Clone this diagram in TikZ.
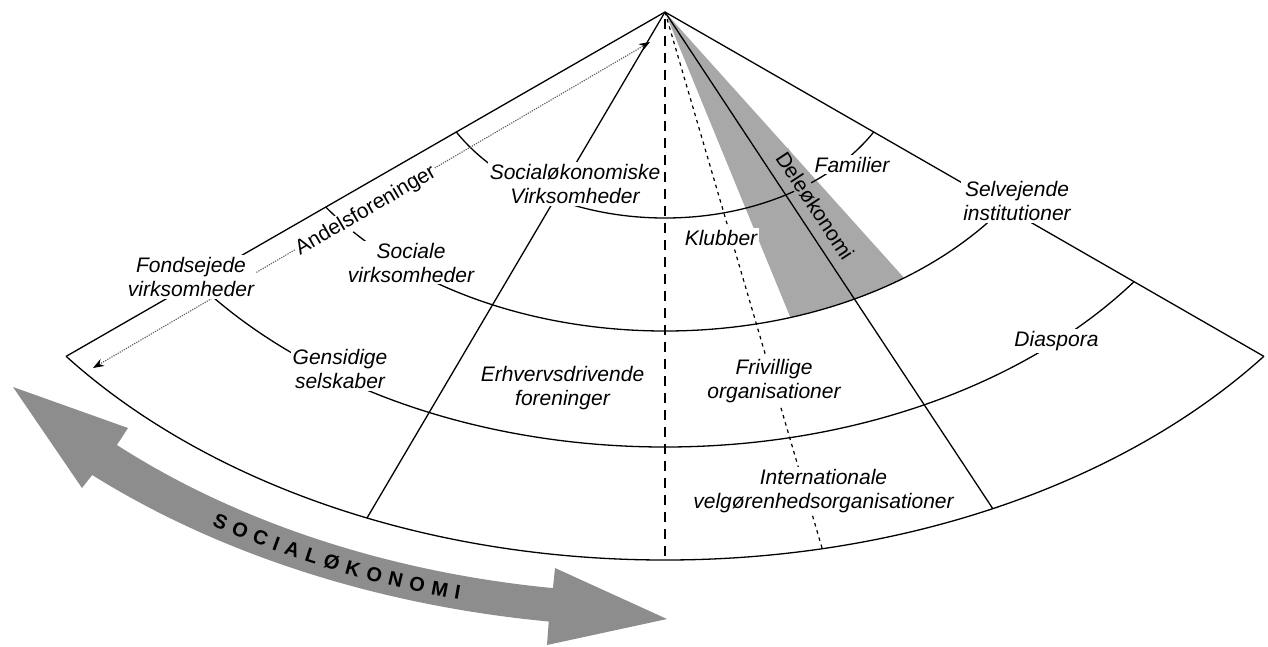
\documentclass[tikz,border=0pt]{standalone}
\usepackage{fontspec}
\setmainfont{Liberation Sans}
\usetikzlibrary{arrows.meta}
\definecolor{wedgegray}{RGB}{168,168,168}
\definecolor{arrowgray}{RGB}{141,141,141}
\definecolor{dotgray}{RGB}{90,90,90}
\begin{document}
\begin{tikzpicture}[x=1pt,y=1pt,
  arcln/.style={line width=1.3pt, black},
  edgeln/.style={line width=1.3pt, black},
  finedash/.style={line width=1.2pt, dash pattern=on 3.5pt off 4pt},
  cdash/.style={line width=2.4pt, dash pattern=on 10pt off 7pt, dash phase=10pt},
  dotarr/.style={line width=1.1pt, dotgray, dash pattern=on 1.2pt off 1.2pt,
    arrows={Stealth[length=11pt,width=8pt,color=black]-Stealth[length=11pt,width=8pt,color=black]}},
  lbl/.style={font=\fontsize{21}{24}\selectfont\itshape, align=center, fill=white, inner sep=2pt},
  rlbl/.style={font=\fontsize{21}{24}\selectfont, inner sep=1.5pt},
  ltr/.style={font=\fontsize{20}{20}\selectfont\bfseries, text height=14.4pt, text depth=0pt, inner sep=0pt}
]
\useasboundingbox (0,0) rectangle (1268,-646);
\coordinate (A) at (665,-12);
\coordinate (C) at (665,-48);
\coordinate (B) at (665,-560);
\coordinate (Lfar) at (-535,-702);
\coordinate (Rfar) at (1865,-702);
\coordinate (gL) at (827.5,-408);
\coordinate (gR) at (974.4,-356.1);
\coordinate (radL) at (307.4,-619.2);
\coordinate (radR) at (1058.6,-608.4);
\coordinate (radD) at (853.4,-655.2);
\coordinate (d1) at (93,-368);
\coordinate (d2) at (650,-42);

% grey wedge (Deleøkonomi)
\begin{scope}
  \clip (C) ellipse [x radius=410pt, y radius=283pt];
  \fill[wedgegray] (A) -- (gL) -- (gR) -- cycle;
\end{scope}

% concentric arcs
\begin{scope}
  \clip (A) -- (Lfar) -- (Rfar) -- cycle;
  \draw[arcln] (C) ellipse [x radius=240pt, y radius=170pt];
  \draw[arcln] (C) ellipse [x radius=410pt, y radius=283pt];
  \draw[arcln] (C) ellipse [x radius=578.6pt, y radius=399pt];
  \draw[arcln] (C) ellipse [x radius=750pt, y radius=512pt];
\end{scope}

% edges and radial lines
\begin{scope}
  \clip (C) ellipse [x radius=750pt, y radius=512pt];
  \draw[edgeln] (A) -- (Lfar);
  \draw[edgeln] (A) -- (Rfar);
  \draw[edgeln] (A) -- (radL);
  \draw[edgeln] (A) -- (radR);
  \draw[finedash] (A) -- (radD);
\end{scope}

% dotted double arrow
\draw[dotarr] (d1) -- (d2);

% labels
\node[lbl] (soc) at (575,-184) {Socialøkonomiske\\Virksomheder};
\node[lbl] (sociale) at (411,-262.5) {Sociale\\virksomheder};
\node[lbl] (fonds) at (191,-277) {Fondsejede\\virksomheder};
\node[lbl] (fam) at (852,-164.5) {Familier};
\node[lbl] (selv) at (1017,-201) {Selvejende\\institutioner};
\node[lbl] (klub) at (721,-237.5) {Klubber};
\node[lbl] (gens) at (340,-369) {Gensidige\\selskaber};
\node[lbl] (erhv) at (562.5,-388) {Erhvervsdrivende\\foreninger};
\node[lbl] (friv) at (774,-381) {Frivillige\\organisationer};
\node[lbl] (dias) at (1056.5,-341) {Diaspora};
\node[lbl] (intl) at (823.5,-491) {Internationale\\velgørenhedsorganisationer};
\node[rlbl, fill=white, rotate=30.3] (andel) at (366,-211) {Andelsforeninger};
\node[rlbl, fill=wedgegray, rotate=-56.6] (dele) at (815,-205.8) {Deleøkonomi};

% central dashed axis
\draw[cdash] (A) -- (B);

% big curved double arrow
\fill[arrowgray]
  ([shift={(665,-48)}]226.7:799.2pt and 545.5pt)
  arc[start angle=226.7, end angle=261.94, x radius=799.2pt, y radius=545.5pt]
  -- (555,-568) -- (667,-619) -- (547,-645)
  -- ([shift={(665,-48)}]262.12:848.2pt and 579pt)
  arc[start angle=262.12, end angle=227.52, x radius=848.2pt, y radius=579pt]
  -- (82,-488) -- (13,-387) -- (128,-428) -- cycle;

\foreach \ch/\t/\r [count=\i] in {S/237.34/-23.64, O/238.95/-22.35, C/240.59/-21.05,
  I/241.85/-20.06, A/243.11/-19.10, L/244.61/-17.96, Ø/246.14/-16.80, K/247.74/-15.61,
  O/249.33/-14.44, N/250.92/-13.28, O/252.49/-12.15, M/254.13/-10.98, I/255.41/-10.07}
  \node[ltr, rotate=\r] (ltr\i) at ([shift={(665,-48)}]\t:823.5pt and 562.2pt) {\ch};
\end{tikzpicture}
\end{document}
